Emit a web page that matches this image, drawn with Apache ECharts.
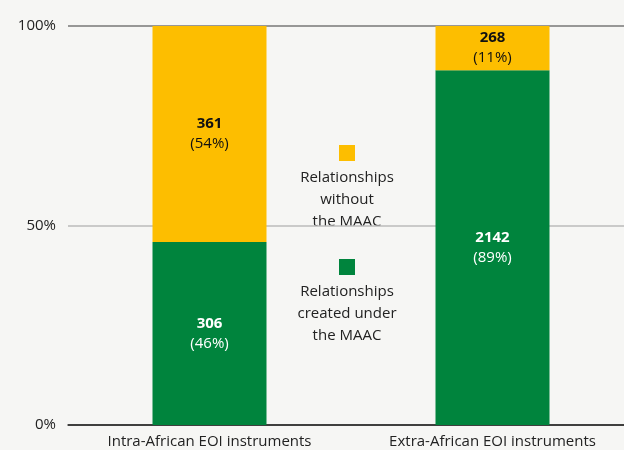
<!DOCTYPE html>
<html><head><meta charset="utf-8">
<script src="https://cdn.jsdelivr.net/npm/echarts@6/dist/echarts.min.js"></script>
<style>html,body{margin:0;padding:0;background:#f6f6f4;}#c{width:624px;height:450px;}</style>
</head><body><div id="c"></div>
<script>
const categories = ['Intra-African EOI instruments', 'Extra-African EOI instruments'];
const underMAAC = [306, 2142];
const withoutMAAC = [361, 268];
const yTicks = [0, 50, 100];
const legendNames = ['Relationships\nwithout\nthe MAAC', 'Relationships\ncreated under\nthe MAAC'];

const totals = categories.map((_, i) => underMAAC[i] + withoutMAAC[i]);
const pct = (arr) => arr.map((v, i) => v / totals[i] * 100);
const FONT = 'Open Sans';
const GREEN = '#00843D', YELLOW = '#FDBE00';

function lbl(arr, color) {
  return {
    show: true, position: 'inside',
    formatter: p => '{b|' + arr[p.dataIndex] + '}\n{n|(' + Math.round(p.value) + '%)}',
    rich: {
      b: {fontFamily: FONT, fontWeight: 'bold', fontSize: 15, color: color, lineHeight: 20},
      n: {fontFamily: FONT, fontSize: 15, color: color, lineHeight: 20}
    }
  };
}

const chart = echarts.init(document.getElementById('c'), null, {renderer: 'canvas'});
chart.setOption({
  backgroundColor: '#f6f6f4',
  animation: false,
  grid: {left: 68, width: 566, top: 26, bottom: 25, outerBoundsMode: 'none', containLabel: false},
  xAxis: {
    type: 'category', data: categories,
    axisLine: {lineStyle: {color: '#333', width: 1.5}},
    axisTick: {show: false},
    axisLabel: {fontFamily: FONT, fontSize: 15, color: '#222', margin: 9}
  },
  yAxis: {
    type: 'value', min: 0, max: 100, interval: 50,
    axisLabel: {fontFamily: FONT, fontSize: 15, color: '#222', margin: 12,
      formatter: v => yTicks.includes(v) ? v + '%' : ''},
    axisLine: {show: false}, axisTick: {show: false},
    splitLine: {lineStyle: {color: ['#333', '#bbbbbb', '#777'], width: 1.5}}
  },
  series: [
    {name: 'under', type: 'bar', stack: 's', barWidth: 114, data: pct(underMAAC),
      itemStyle: {color: GREEN}, label: lbl(underMAAC, '#fff')},
    {name: 'without', type: 'bar', stack: 's', barWidth: 114, data: pct(withoutMAAC),
      itemStyle: {color: YELLOW}, label: lbl(withoutMAAC, '#111')}
  ],
  graphic: [
    {type: 'rect', shape: {x: 339, y: 145, width: 16, height: 16}, style: {fill: YELLOW}},
    {type: 'text', x: 347, y: 167, style: {text: legendNames[0], fontFamily: FONT, fontSize: 15, fill: '#222', align: 'center', lineHeight: 22}},
    {type: 'rect', shape: {x: 339, y: 259, width: 16, height: 16}, style: {fill: GREEN}},
    {type: 'text', x: 347, y: 281, style: {text: legendNames[1], fontFamily: FONT, fontSize: 15, fill: '#222', align: 'center', lineHeight: 22}}
  ]
});
</script></body></html>
